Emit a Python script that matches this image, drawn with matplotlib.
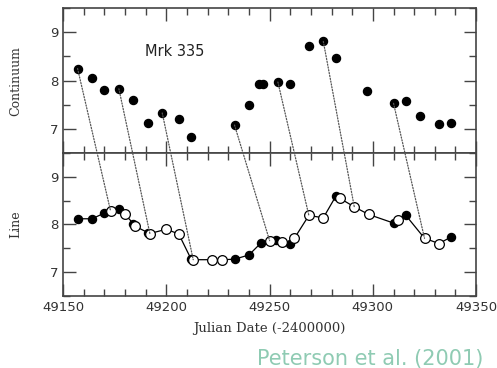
import matplotlib
matplotlib.use('Agg')
import matplotlib.pyplot as plt
from matplotlib.patches import ConnectionPatch
from matplotlib.ticker import MultipleLocator

# continuum light curve (filled points, top panel)
cont_date = [49157, 49164, 49170, 49177, 49184, 49191, 49198, 49206, 49212,
             49233, 49240, 49245, 49247, 49254, 49260, 49269, 49276, 49282,
             49297, 49310, 49316, 49323, 49332, 49338]
cont_flux = [8.25, 8.06, 7.81, 7.83, 7.59, 7.12, 7.33, 7.20, 6.83,
             7.08, 7.50, 7.92, 7.92, 7.97, 7.92, 8.72, 8.81, 8.46,
             7.78, 7.53, 7.58, 7.27, 7.11, 7.13]

# line light curve: observed (filled) and shifted continuum (open)
line_obs_date = [49157, 49164, 49170, 49177, 49184, 49191, 49212, 49233,
                 49240, 49246, 49253, 49260, 49282, 49310, 49316, 49338]
line_obs_flux = [8.12, 8.12, 8.24, 8.33, 8.02, 7.83, 7.27, 7.27,
                 7.36, 7.62, 7.67, 7.60, 8.59, 8.03, 8.19, 7.74]
line_open_date = [49173, 49180, 49185, 49192, 49200, 49206, 49213, 49222,
                  49227, 49250, 49256, 49262, 49269, 49276, 49284, 49291,
                  49298, 49312, 49325, 49332]
line_open_flux = [8.28, 8.21, 7.96, 7.81, 7.90, 7.80, 7.26, 7.26,
                  7.26, 7.66, 7.63, 7.71, 8.19, 8.14, 8.55, 8.37,
                  8.21, 8.09, 7.71, 7.60]

# dotted links: continuum date -> line date
link_from = [49157, 49177, 49198, 49233, 49254, 49276, 49310]
link_to = [49173, 49192, 49213, 49250, 49269, 49291, 49325]

fig = plt.figure(figsize=(4.97, 3.68), dpi=100)
ax1 = fig.add_axes([0.127, 0.584, 0.831, 0.394])
ax2 = fig.add_axes([0.127, 0.196, 0.831, 0.388], sharex=ax1)

edge = '#444444'
for ax in (ax1, ax2):
    ax.set_xlim(49150, 49350)
    ax.set_ylim(6.5, 9.5)
    ax.xaxis.set_major_locator(MultipleLocator(50))
    ax.xaxis.set_minor_locator(MultipleLocator(10))
    ax.yaxis.set_major_locator(MultipleLocator(1))
    ax.yaxis.set_minor_locator(MultipleLocator(0.5))
    ax.tick_params(which='both', direction='in', top=True, right=True,
                   color=edge, width=1.0, labelcolor='#333333', labelsize=9.5)
    ax.tick_params(which='major', length=9)
    ax.tick_params(which='minor', length=5)
    for s in ax.spines.values():
        s.set_color(edge)
        s.set_linewidth(1.2)

ax1.tick_params(labelbottom=False)

ax1.plot(cont_date, cont_flux, 'o', color='black', ms=5.8, zorder=3)
ax1.text(49204, 8.6, 'Mrk 335', fontsize=10.5, color='#222222', ha='center', va='center')
ax1.set_ylabel('Continuum', family='DejaVu Serif', fontsize=9, color='#333333', labelpad=20)

all_date = line_obs_date + line_open_date
all_flux = line_obs_flux + line_open_flux
order = sorted(range(len(all_date)), key=lambda i: all_date[i])
ax2.plot([all_date[i] for i in order], [all_flux[i] for i in order],
         '-', color='black', lw=0.9, zorder=2)
ax2.plot(line_obs_date, line_obs_flux, 'o', color='black', ms=5.8, zorder=3)
ax2.plot(line_open_date, line_open_flux, 'o', mfc='white', mec='black',
         mew=0.9, ms=7, zorder=4)
ax2.set_ylabel('Line', family='DejaVu Serif', fontsize=9, color='#333333', labelpad=20)
ax2.set_xlabel('Julian Date (-2400000)', family='DejaVu Serif', fontsize=9.5,
               color='#333333', labelpad=6)

for d0, d1 in zip(link_from, link_to):
    v0 = cont_flux[cont_date.index(d0)]
    v1 = line_open_flux[line_open_date.index(d1)]
    con = ConnectionPatch(xyA=(d0, v0), coordsA=ax1.transData,
                          xyB=(d1, v1), coordsB=ax2.transData,
                          linestyle=(0, (1, 1.3)), color='#555555', lw=0.9, zorder=1)
    fig.add_artist(con)

fig.text(0.973, 0.025, 'Peterson et al. (2001)', ha='right', va='center',
         fontsize=15, color='#8fcbb3', family='DejaVu Sans')

fig.savefig('out.png', dpi=100)
